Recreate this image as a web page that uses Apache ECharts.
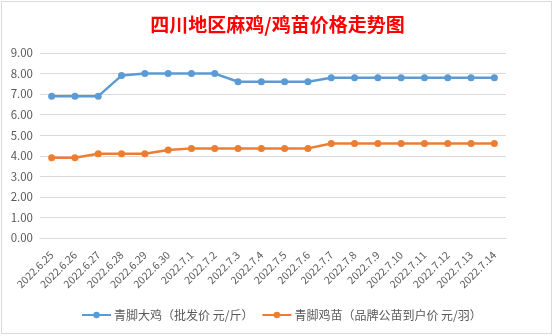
<!DOCTYPE html>
<html><head><meta charset="utf-8">
<script src="https://cdn.jsdelivr.net/npm/echarts@6/dist/echarts.min.js"></script>
<style>
html,body{margin:0;padding:0;background:#fff;}
#frame{position:absolute;left:1px;top:1px;width:549px;height:331px;border:1px solid #d9d9d9;}
#c{position:absolute;left:0;top:0;width:555px;height:336px;}
</style></head>
<body>
<div id="frame"></div>
<div id="c"></div>
<script>
const categories = ['2022.6.25','2022.6.26','2022.6.27','2022.6.28','2022.6.29','2022.6.30','2022.7.1','2022.7.2','2022.7.3','2022.7.4','2022.7.5','2022.7.6','2022.7.7','2022.7.8','2022.7.9','2022.7.10','2022.7.11','2022.7.12','2022.7.13','2022.7.14'];
const chickenPrice = [6.9,6.9,6.9,7.9,8.0,8.0,8.0,8.0,7.6,7.6,7.6,7.6,7.8,7.8,7.8,7.8,7.8,7.8,7.8,7.8];
const chickPrice = [3.9,3.9,4.1,4.1,4.1,4.28,4.36,4.36,4.36,4.36,4.36,4.36,4.6,4.6,4.6,4.6,4.6,4.6,4.6,4.6];
const seriesNames = ['青脚大鸡（批发价 元/斤）','青脚鸡苗（品牌公苗到户价 元/羽）'];
const titleText = '四川地区麻鸡/鸡苗价格走势图';

const chart = echarts.init(document.getElementById('c'), null, {renderer:'canvas'});
const font = '"Microsoft YaHei","Noto Sans CJK SC",sans-serif';
chart.setOption({
  backgroundColor: 'transparent',
  animation: false,
  title: {
    text: titleText, left: 'center', top: 10,
    textStyle: {color: '#ff0000', fontSize: 19, fontWeight: 'bold', fontFamily: font}
  },
  legend: {
    top: 304, left: 76, itemWidth: 29, itemHeight: 8, itemGap: 8,
    textStyle: {color: '#595959', fontSize: 12, fontFamily: font, padding: [0,0,0,-2]},
    data: seriesNames
  },
  grid: {left: 40, right: 49, top: 53, bottom: 98, containLabel: false},
  xAxis: {
    type: 'category', data: categories, boundaryGap: true,
    axisLine: {show: true, lineStyle: {color: '#d9d9d9'}},
    axisTick: {show: false},
    axisLabel: {rotate: 45, color: '#595959', fontSize: 10.5, margin: 15, interval: 0, fontFamily: font}
  },
  yAxis: {
    type: 'value', min: 0, max: 9, interval: 1,
    axisLine: {show: false}, axisTick: {show: false},
    splitLine: {lineStyle: {color: '#d9d9d9'}},
    axisLabel: {color: '#595959', fontSize: 11.5, margin: 7, formatter: v => v.toFixed(2), fontFamily: font}
  },
  series: [
    {name: seriesNames[0], type: 'line', data: chickenPrice, symbol: 'circle', symbolSize: 7,
     lineStyle: {width: 2.5, color: '#5b9bd5'}, itemStyle: {color: '#5b9bd5'}},
    {name: seriesNames[1], type: 'line', data: chickPrice, symbol: 'circle', symbolSize: 7,
     lineStyle: {width: 2.5, color: '#ed7d31'}, itemStyle: {color: '#ed7d31'}}
  ]
});
</script>
</body></html>
